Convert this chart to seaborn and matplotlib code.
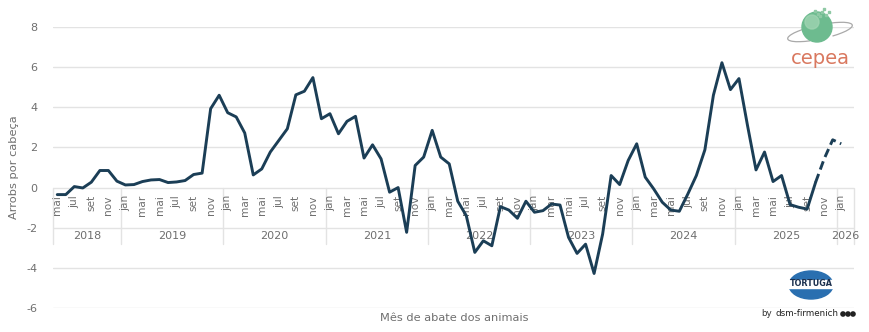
import matplotlib
matplotlib.use("Agg")
import matplotlib.pyplot as plt
from matplotlib.patches import Ellipse, Rectangle, Arc, Circle
import seaborn as sns
import numpy as np
import pandas as pd

# ---------------- data ----------------
month_names = ['jan', 'fev', 'mar', 'abr', 'mai', 'jun', 'jul', 'ago', 'set', 'out', 'nov', 'dez']
years = ['2018', '2019', '2020', '2021', '2022', '2023', '2024', '2025', '2026']
start_month = 4          # mai 2018
n_slots = 94             # mai 2018 .. fev 2026

actual = [
    -0.35, -0.35, 0.05, -0.02, 0.27, 0.85, 0.85, 0.32,                      # 2018 mai-dez
    0.13, 0.15, 0.30, 0.38, 0.40, 0.25, 0.28, 0.35, 0.65, 0.72, 3.93, 4.60,   # 2019
    3.73, 3.52, 2.72, 0.63, 0.93, 1.77, 2.35, 2.93, 4.62, 4.80, 5.48, 3.43,   # 2020
    3.68, 2.68, 3.30, 3.55, 1.47, 2.13, 1.43, -0.23, 0.00, -2.23, 1.10, 1.52, # 2021
    2.85, 1.52, 1.18, -0.68, -1.40, -3.23, -2.65, -2.90, -0.95, -1.12, -1.53, -0.68,  # 2022
    -1.23, -1.15, -0.82, -0.87, -2.48, -3.28, -2.82, -4.28, -2.32, 0.60, 0.15, 1.35,  # 2023
    2.18, 0.52, -0.07, -0.73, -1.12, -1.18, -0.32, 0.60, 1.88, 4.60, 6.22, 4.88,      # 2024
    5.43, 3.10, 0.88, 1.77, 0.30, 0.60, -0.85, -0.98, -1.07, 0.27,                    # 2025 jan-out
]
projection = [0.27, 1.43, 2.38, 2.18]   # out 2025 .. jan 2026

y_ticks = [-6, -4, -2, 0, 2, 4, 6, 8]

# ---------------- frames ----------------
df_act = pd.DataFrame({'pos': np.arange(len(actual)), 'valor': actual})
proj_start = len(actual) - 1
df_proj = pd.DataFrame({'pos': np.arange(proj_start, proj_start + len(projection)), 'valor': projection})

# ---------------- style ----------------
sns.set_theme(style='white')
plt.rcParams['font.family'] = ['DejaVu Sans']
txt_col = '#6f6f6f'
grid_col = '#e3e3e3'
line_col = '#1b3e56'

W, H = 869, 332
fig = plt.figure(figsize=(W / 100, H / 100), dpi=100)
ax_left, ax_right, ax_top, ax_bot = 53, 854, 27, 308
ax = fig.add_axes([ax_left / W, (H - ax_bot) / H, (ax_right - ax_left) / W, (ax_bot - ax_top) / H])

ax.set_xlim(-0.5, n_slots - 0.5)
ax.set_ylim(-6, 8)
for s in ax.spines.values():
    s.set_visible(False)

for yv in y_ticks:
    ax.axhline(yv, color=grid_col, lw=1.0, zorder=0)

sns.lineplot(data=df_act, x='pos', y='valor', ax=ax, color=line_col, lw=2.1,
             zorder=3, legend=False)
sns.lineplot(data=df_proj, x='pos', y='valor', ax=ax, color=line_col, lw=2.1,
             zorder=3, legend=False, linestyle=(0, (3.0, 1.6)))

ax.set_xticks([])
ax.set_yticks(y_ticks)
ax.set_yticklabels([str(v) for v in y_ticks], color=txt_col, fontsize=8)
ax.tick_params(axis='y', length=0, pad=11)
ax.set_xlabel('')
ax.set_ylabel('')

# month labels (every other month) under the 0 line
for i in range(n_slots):
    m = (start_month + i) % 12
    if i % 2 == 0 and i <= 92:
        ax.text(i, -0.38, month_names[m], rotation=90, ha='center', va='top',
                fontsize=7.6, color=txt_col, zorder=2)

# year separators and year labels
bounds = [-0.5]
for k in range(1, len(years)):
    bounds.append(-0.5 + (12 - start_month) + 12 * (k - 1))
bounds.append(n_slots - 0.5)
for b in bounds:
    ax.plot([b, b], [0, -2.8], color=grid_col, lw=1.0, zorder=1, clip_on=False)
for k, yr in enumerate(years):
    cx = (bounds[k] + bounds[k + 1]) / 2
    ax.text(cx, -2.42, yr, ha='center', va='center', fontsize=8, color=txt_col, zorder=2)

# axis titles
fig.text(14 / W, 1 - 167 / H, 'Arrobs por cabeça', rotation=90, ha='center', va='center',
         fontsize=8.2, color=txt_col)
fig.text(454 / W, 1 - 318 / H, 'Mês de abate dos animais', ha='center', va='center',
         fontsize=8.2, color=txt_col)

# ---------------- logos (approximations) ----------------
la = fig.add_axes([0, 0, 1, 1], facecolor='none')
la.set_xlim(0, W)
la.set_ylim(H, 0)
la.axis('off')
# CEPEA globe
la.add_patch(Arc((820, 32), 66, 14, angle=-12, theta1=150, theta2=390, color='#a9a9a9', lw=0.9))
la.add_patch(Circle((817, 27), 15, color='#6dbb8f', zorder=2))
la.add_patch(Circle((812, 22), 7, color='#9fd4b2', zorder=3, alpha=0.8))
for dx, dy in [(0, -14), (4, -16), (8, -13), (-3, -17), (6, -19), (11, -16), (2, -12)]:
    la.add_patch(Rectangle((817 + dx, 27 + dy), 2, 2, color='#8fc9a5', zorder=4))
la.text(820, 58, 'cepea', ha='center', va='center', fontsize=14, color='#d9785f')
# TORTUGA
la.add_patch(Ellipse((811, 285), 44, 28, color='#2a6fb0', zorder=2))
la.add_patch(Rectangle((786, 280), 50, 8, color='white', zorder=3))
la.text(811, 284, 'TORTUGA', ha='center', va='center', fontsize=5.8, fontweight='bold',
        color='#1a2f4d', zorder=4)
la.text(761, 314, 'by', ha='left', va='center', fontsize=6.3, color='#333333')
la.text(776, 314, 'dsm-firmenich', ha='left', va='center', fontsize=6.3, color='#222222')
for dx in [0, 5, 10]:
    la.add_patch(Circle((843 + dx, 314), 2.1, color='#222222'))

fig.savefig('out.png', dpi=100)
